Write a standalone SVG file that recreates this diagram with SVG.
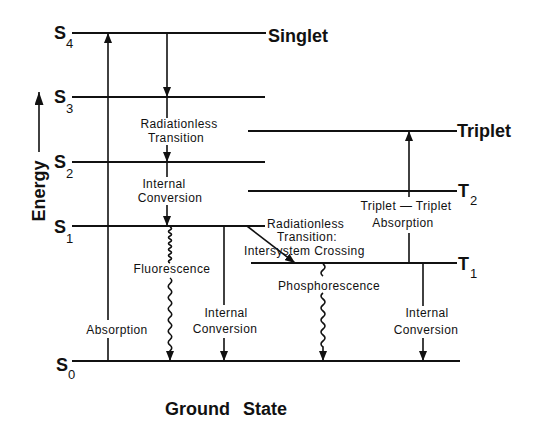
<svg xmlns="http://www.w3.org/2000/svg" width="533" height="437" viewBox="0 0 533 437">
  <style>
    .lvl { stroke: #111; stroke-width: 2; fill: none; }
    .con { stroke: #111; stroke-width: 1.6; fill: none; }
    .wave { stroke: #111; stroke-width: 1.6; fill: none; }
    .big { font-family: "Liberation Sans", Arial, sans-serif; font-weight: bold; font-size: 18px; fill: #111; }
    .sub { font-family: "Liberation Sans", Arial, sans-serif; font-size: 13px; fill: #111; }
    .lbl { font-family: "Liberation Sans", Arial, sans-serif; font-size: 12px; letter-spacing: 0.4px; fill: #111; }
    .mid { text-anchor: middle; }
  </style>
  <defs>
    <marker id="ah" markerUnits="userSpaceOnUse" markerWidth="10" markerHeight="8" viewBox="0 0 10 8" refX="10" refY="4" orient="auto">
      <path d="M0,0 L10,4 L0,8 z" fill="#111"/>
    </marker>
    <marker id="ahBig" markerUnits="userSpaceOnUse" markerWidth="13" markerHeight="9" viewBox="0 0 13 9" refX="13" refY="4.5" orient="auto">
      <path d="M0,0 L13,4.5 L0,9 z" fill="#111"/>
    </marker>
  </defs>
  <rect width="533" height="437" fill="#fff"/>

  <!-- Energy axis -->
  <g id="energy-axis">
    <line class="con" x1="39" y1="152" x2="39" y2="92" marker-end="url(#ahBig)"/>
    <text class="big mid" transform="translate(45,191) rotate(-90)">Energy</text>
  </g>

  <!-- Levels -->
  <g id="S4">
    <line class="lvl" x1="72" y1="33" x2="266" y2="33"/>
    <text class="big" x="54" y="39">S</text><text class="sub" x="66" y="48">4</text>
    <text class="big" x="268" y="42">Singlet</text>
  </g>
  <g id="S3">
    <line class="lvl" x1="72" y1="97" x2="265" y2="97"/>
    <text class="big" x="54" y="103">S</text><text class="sub" x="66" y="113">3</text>
  </g>
  <g id="S2">
    <line class="lvl" x1="72" y1="162" x2="265" y2="162"/>
    <text class="big" x="54" y="168">S</text><text class="sub" x="66" y="178">2</text>
  </g>
  <g id="S1">
    <line class="lvl" x1="72" y1="226" x2="265" y2="226"/>
    <text class="big" x="54" y="233">S</text><text class="sub" x="66" y="243">1</text>
  </g>
  <g id="S0">
    <line class="lvl" x1="72" y1="361" x2="460" y2="361"/>
    <text class="big" x="56" y="371">S</text><text class="sub" x="68" y="379">0</text>
    <text class="big" x="165" y="415" style="word-spacing:8px">Ground State</text>
  </g>
  <g id="Triplet">
    <line class="lvl" x1="248" y1="131" x2="457" y2="131"/>
    <text class="big" x="457" y="137">Triplet</text>
  </g>
  <g id="T2">
    <line class="lvl" x1="248" y1="191" x2="457" y2="191"/>
    <text class="big" x="458" y="197">T</text><text class="sub" x="470" y="205">2</text>
  </g>
  <g id="T1">
    <line class="lvl" x1="251" y1="263" x2="457" y2="263"/>
    <text class="big" x="458" y="270">T</text><text class="sub" x="470" y="278">1</text>
  </g>

  <!-- Connectors -->
  <g id="connectors">
    <!-- Absorption S0 -> S4 -->
    <line class="con" x1="108" y1="361" x2="108" y2="338"/>
    <line class="con" x1="108" y1="320" x2="108" y2="33" marker-end="url(#ah)"/>
    <!-- Cascade S4 -> S3 -> S2 -> S1 -->
    <line class="con" x1="167" y1="33" x2="167" y2="97" marker-end="url(#ah)"/>
    <line class="con" x1="167" y1="97" x2="167" y2="118"/>
    <line class="con" x1="167" y1="145" x2="167" y2="162" marker-end="url(#ah)"/>
    <line class="con" x1="167" y1="162" x2="167" y2="177"/>
    <line class="con" x1="167" y1="205" x2="167" y2="226" marker-end="url(#ah)"/>
    <!-- Fluorescence -->
    <path class="wave" d="M170,227 q3,1.5 0,3 t0,3 t0,3 t0,3 t0,3 t0,3 t0,3 t0,3 t0,3 t0,3 t0,3 t0,3"/>
    <path class="wave" d="M170,278 q3.5,2.8 0,5.6 t0,5.6 t0,5.6 t0,5.6 t0,5.6 t0,5.6 t0,5.6 t0,5.6 t0,5.6 t0,5.6 t0,5.6 t0,5.6 t0,5.6 L170,361" marker-end="url(#ah)"/>
    <!-- Internal conversion S1 -> S0 -->
    <line class="con" x1="224" y1="226" x2="224" y2="305"/>
    <line class="con" x1="224" y1="338" x2="224" y2="361" marker-end="url(#ah)"/>
    <!-- Intersystem crossing S1 -> T1 -->
    <line class="con" x1="247" y1="226" x2="295" y2="263" marker-end="url(#ah)"/>
    <!-- Phosphorescence -->
    <path class="wave" d="M323,264 q4,3 0,6 t0,6"/>
    <path class="wave" d="M323,293 q-4,3 0,6 t0,6 t0,6 t0,6 t0,6 t0,6 t0,6 t0,6 t0,6 L323,361" marker-end="url(#ah)"/>
    <!-- Triplet-triplet absorption T1 -> Triplet -->
    <line class="con" x1="409" y1="263" x2="409" y2="233"/>
    <line class="con" x1="409" y1="197" x2="409" y2="131" marker-end="url(#ah)"/>
    <!-- Internal conversion T1 -> S0 -->
    <line class="con" x1="423" y1="263" x2="423" y2="306"/>
    <line class="con" x1="423" y1="338" x2="423" y2="361" marker-end="url(#ah)"/>

    <!-- connector labels -->
    <text class="lbl mid" x="179" y="128">Radiationless</text>
    <text class="lbl mid" x="176" y="142">Transition</text>
    <text class="lbl mid" x="164" y="188">Internal</text>
    <text class="lbl mid" x="170" y="202">Conversion</text>
    <text class="lbl mid" x="172" y="273">Fluorescence</text>
    <text class="lbl mid" x="226" y="317">Internal</text>
    <text class="lbl mid" x="225" y="333">Conversion</text>
    <text class="lbl mid" x="117" y="334">Absorption</text>
    <text class="lbl" x="267" y="228">Radiationless</text>
    <text class="lbl" x="277" y="241">Transition:</text>
    <text class="lbl" x="244" y="255">Intersystem Crossing</text>
    <text class="lbl mid" x="406" y="210">Triplet — Triplet</text>
    <text class="lbl mid" x="403" y="227">Absorption</text>
    <text class="lbl mid" x="329" y="290">Phosphorescence</text>
    <text class="lbl mid" x="427" y="317">Internal</text>
    <text class="lbl mid" x="426" y="334">Conversion</text>
  </g>
</svg>
